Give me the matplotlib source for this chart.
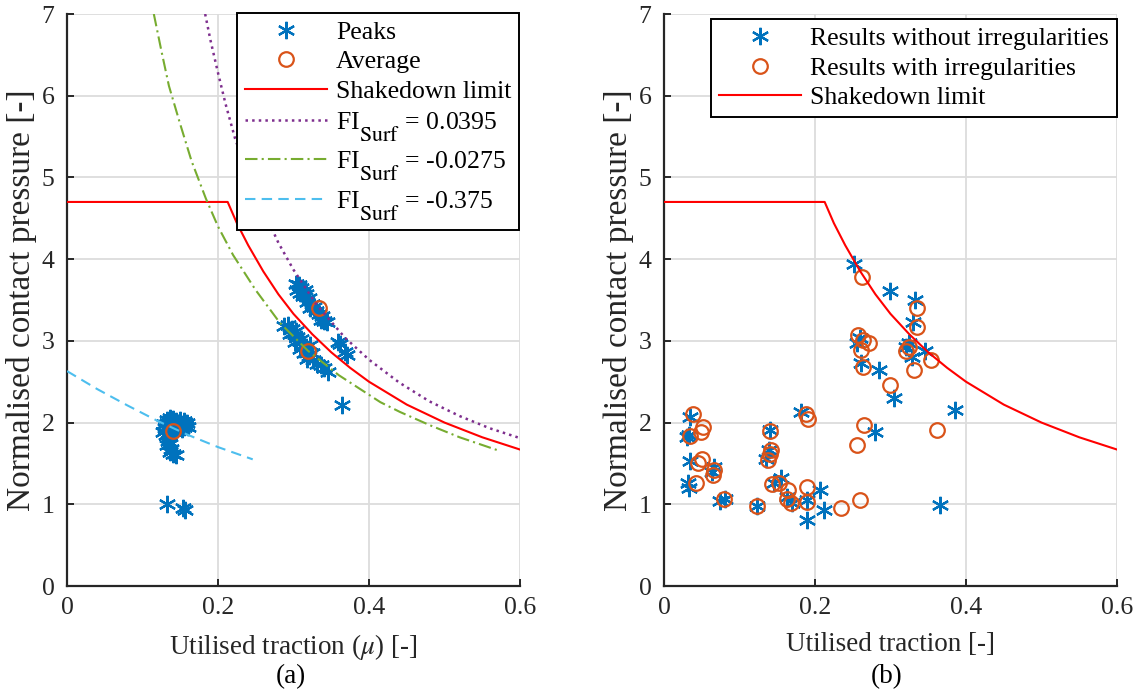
import matplotlib as mpl
mpl.use('Agg')
import matplotlib.pyplot as plt
import numpy as np

# bigger, lower subscripts like the MATLAB tex interpreter
try:
    import matplotlib._mathtext as _mt
    _mt.SHRINK_FACTOR = 0.85
    _mt.STIXFontConstants.sub1 = 1.0
except Exception:
    pass

plt.rcParams['font.family'] = ['Liberation Serif', 'DejaVu Serif']
plt.rcParams['mathtext.fontset'] = 'stix'
plt.rcParams['font.size'] = 18.5

BLUE = '#0072BD'
ORANGE = '#D95319'
DARK = '#262626'

# ---------------- data ----------------
# shakedown limit (both panels)
shake_mu = [0, 0.2128, 0.225, 0.24, 0.26, 0.28, 0.30, 0.325, 0.35, 0.375, 0.40, 0.45, 0.50, 0.55, 0.60]
shake_p = [4.70, 4.70, 4.44, 4.17, 3.85, 3.57, 3.33, 3.08, 2.86, 2.67, 2.50, 2.22, 2.00, 1.82, 1.67]

# FI_surf contours, panel (a)
fi1_mu = [0.183, 0.19, 0.20, 0.21, 0.2225, 0.24, 0.26, 0.28, 0.30, 0.33, 0.368, 0.40, 0.44, 0.48, 0.52, 0.56, 0.60]
fi1_p = [7.0, 6.68, 6.28, 5.90, 5.48, 5.02, 4.60, 4.20, 3.87, 3.45, 3.04, 2.77, 2.49, 2.26, 2.08, 1.93, 1.81]
fi2_mu = [0.115, 0.125, 0.135, 0.15, 0.165, 0.184, 0.20, 0.22, 0.25, 0.282, 0.319, 0.36, 0.415, 0.441, 0.48, 0.52, 0.574]
fi2_p = [7.0, 6.55, 6.12, 5.65, 5.20, 4.74, 4.40, 4.05, 3.62, 3.22, 2.88, 2.58, 2.25, 2.13, 1.97, 1.82, 1.65]
fi3_mu = [0, 0.04, 0.08, 0.12, 0.16, 0.20, 0.246]
fi3_p = [2.63, 2.41, 2.21, 2.02, 1.85, 1.70, 1.55]

# peaks, panel (a)
peaks_mu = [0.128, 0.132, 0.136, 0.140, 0.144, 0.148, 0.152, 0.156, 0.159, 0.155, 0.150, 0.146, 0.142, 0.130,
            0.127, 0.131, 0.135, 0.134, 0.137, 0.133, 0.138, 0.136, 0.140, 0.144, 0.143, 0.139, 0.152, 0.157,
            0.135, 0.145, 0.150, 0.133, 0.138, 0.155, 0.148, 0.160,
            0.132, 0.154, 0.156,
            0.288, 0.293, 0.298, 0.303, 0.296, 0.305, 0.310, 0.302, 0.312, 0.316, 0.308, 0.314, 0.320, 0.325,
            0.318, 0.326, 0.331, 0.336, 0.340, 0.346, 0.322, 0.300,
            0.359, 0.362, 0.371, 0.368, 0.364,
            0.303, 0.307, 0.310, 0.305, 0.313, 0.317, 0.312, 0.320, 0.318, 0.324, 0.327, 0.322, 0.330, 0.334,
            0.338, 0.336, 0.341, 0.345, 0.315, 0.309]
peaks_p = [1.98, 2.03, 2.05, 2.04, 2.02, 2.00, 1.98, 2.00, 1.99, 1.95, 1.94, 1.92, 1.95, 1.93,
           1.88, 1.85, 1.83, 1.78, 1.74, 1.72, 1.68, 1.64, 1.62, 1.60, 1.88, 1.90, 1.92, 1.96,
           1.97, 1.97, 2.03, 2.00, 1.93, 2.02, 1.96, 1.95,
           1.00, 0.955, 0.935,
           3.18, 3.20, 3.15, 3.12, 3.08, 3.05, 3.02, 2.98, 2.95, 2.92, 2.90, 2.85, 2.82, 2.85,
           2.78, 2.76, 2.72, 2.70, 2.67, 2.62, 2.95, 3.10,
           2.99, 2.96, 2.83, 2.86, 2.215,
           3.70, 3.68, 3.65, 3.62, 3.60, 3.57, 3.55, 3.52, 3.48, 3.45, 3.42, 3.40, 3.37, 3.33,
           3.30, 3.26, 3.24, 3.23, 3.62, 3.58]

avg_mu = [0.140, 0.319, 0.334]
avg_p = [1.90, 2.88, 3.40]

# panel (b)
smooth_mu = [0.251, 0.299, 0.259, 0.256, 0.261, 0.285, 0.305, 0.280, 0.034, 0.031, 0.033, 0.034, 0.032,
             0.033, 0.066, 0.064, 0.074, 0.081, 0.123, 0.140, 0.135, 0.139, 0.155, 0.146, 0.163, 0.181,
             0.190, 0.189, 0.207, 0.212, 0.170, 0.332, 0.330, 0.324, 0.320, 0.346, 0.366, 0.385, 0.329]
smooth_p = [3.94, 3.61, 3.04, 2.97, 2.73, 2.64, 2.30, 1.89, 2.07, 1.82, 1.85, 1.53, 1.26,
            1.20, 1.46, 1.39, 1.04, 1.06, 0.98, 1.91, 1.56, 1.66, 1.32, 1.26, 1.09, 2.13,
            1.05, 0.81, 1.18, 0.93, 1.01, 3.50, 3.23, 2.97, 2.93, 2.88, 0.99, 2.15, 2.80]
irreg_mu = [0.262, 0.257, 0.263, 0.272, 0.261, 0.263, 0.299, 0.265, 0.256, 0.038, 0.052, 0.049, 0.034,
            0.050, 0.045, 0.066, 0.065, 0.042, 0.079, 0.123, 0.140, 0.142, 0.140, 0.138, 0.143, 0.152,
            0.164, 0.163, 0.168, 0.190, 0.189, 0.188, 0.191, 0.234, 0.259,
            0.335, 0.335, 0.320, 0.325, 0.331, 0.353, 0.362]
irreg_p = [3.78, 3.07, 3.01, 2.97, 2.89, 2.68, 2.46, 1.97, 1.73, 2.10, 1.95, 1.89, 1.83,
           1.55, 1.50, 1.42, 1.36, 1.26, 1.06, 0.98, 1.90, 1.66, 1.62, 1.54, 1.25, 1.26,
           1.17, 1.07, 1.01, 1.21, 1.03, 2.10, 2.04, 0.95, 1.05,
           3.40, 3.17, 2.87, 2.93, 2.64, 2.77, 1.91]

x_ticks = [0, 0.2, 0.4, 0.6]
x_ticklabels = ['0', '0.2', '0.4', '0.6']
y_ticks = [0, 1, 2, 3, 4, 5, 6, 7]

STAR = (6, 2, 0)


def style_axes(ax):
    ax.set_xlim(0, 0.6)
    ax.set_ylim(0, 7)
    ax.set_xticks(x_ticks)
    ax.set_xticklabels(x_ticklabels)
    ax.set_yticks(y_ticks)
    ax.grid(True, color='#dcdcdc', lw=1.3)
    ax.set_axisbelow(True)
    for s in ['top', 'right']:
        ax.spines[s].set_visible(False)
    for s in ['left', 'bottom']:
        ax.spines[s].set_color(DARK)
        ax.spines[s].set_linewidth(1.6)
    ax.tick_params(direction='in', length=5, width=1.4, color=DARK, labelcolor=DARK)
    ax.tick_params(axis='y', pad=9)
    ax.tick_params(axis='x', pad=8)
    ax.set_ylabel('Normalised contact pressure [-]', color=DARK, fontsize=24, labelpad=3)


def make_legend(ax, anchor):
    leg = ax.legend(loc='upper right', bbox_to_anchor=anchor, borderaxespad=0, numpoints=1,
                    fontsize=18.5, handlelength=3.2, handletextpad=0.35, labelspacing=0.26,
                    borderpad=0.3, fancybox=False, framealpha=1, edgecolor='k')
    leg.get_frame().set_linewidth(1.4)
    return leg


fig = plt.figure(figsize=(11.42, 6.95), dpi=100)
ax1 = fig.add_axes([0.05867, 0.15683, 0.39667, 0.82302])
ax2 = fig.add_axes([0.58144, 0.15683, 0.39667, 0.82302])

# ---- (a)
ax1.plot(peaks_mu, peaks_p, ls='none', marker=STAR, ms=12.5, mew=1.6, color=BLUE, label='Peaks', zorder=2)
ax1.plot(avg_mu, avg_p, ls='none', marker='o', ms=10.5, mew=1.6, mfc='none', mec=ORANGE, label='Average', zorder=3)
ax1.plot(shake_mu, shake_p, color='r', lw=1.5, label='Shakedown limit', zorder=4)
ax1.plot(fi1_mu, fi1_p, color='#7E2F8E', lw=1.8, ls=':', label=r'FI$_{\mathrm{Surf}}$ = 0.0395', zorder=4)
ax1.plot(fi2_mu, fi2_p, color='#77AC30', lw=1.5, dashes=[6, 2, 1, 2], label=r'FI$_{\mathrm{Surf}}$ = -0.0275', zorder=4)
ax1.plot(fi3_mu, fi3_p, color='#4DBEEE', lw=1.5, dashes=[5, 3], label=r'FI$_{\mathrm{Surf}}$ = -0.375', zorder=4)
style_axes(ax1)
ax1.set_xlabel(r'Utilised traction ($\mu$) [-]', color=DARK, fontsize=19.5, labelpad=9)
make_legend(ax1, (0.998, 1.002))

# ---- (b)
ax2.plot(smooth_mu, smooth_p, ls='none', marker=STAR, ms=12.5, mew=1.6, color=BLUE,
         label='Results without irregularities', zorder=2)
ax2.plot(irreg_mu, irreg_p, ls='none', marker='o', ms=10.5, mew=1.6, mfc='none', mec=ORANGE,
         label='Results with irregularities', zorder=3)
ax2.plot(shake_mu, shake_p, color='r', lw=1.5, label='Shakedown limit', zorder=4)
style_axes(ax2)
ax2.set_xlabel('Utilised traction [-]', color=DARK, fontsize=19.5, labelpad=9)
make_legend(ax2, (0.999, 0.991))

fig.text(0.2549, 0.027, '(a)', ha='center', va='center', fontsize=19.5)
fig.text(0.7768, 0.027, '(b)', ha='center', va='center', fontsize=19.5)

fig.savefig('out.png', dpi=100)
